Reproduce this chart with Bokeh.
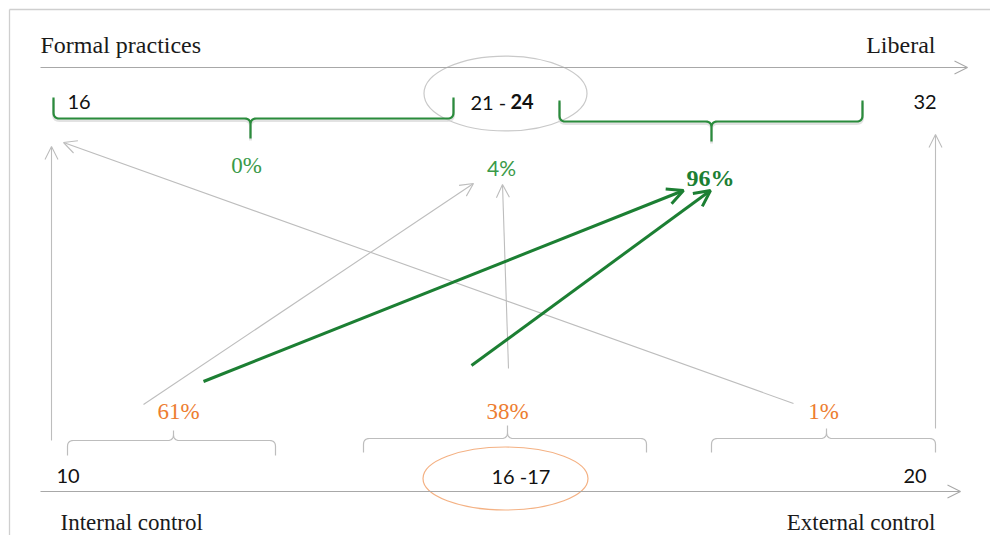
import numpy as np
from bokeh.plotting import figure
from bokeh.models import Range1d, Arrow, OpenHead, ColumnDataSource
from bokeh.core.properties import value
from bokeh.embed import file_html
from bokeh.resources import INLINE

# ---------------- data ----------------
top_axis_titles = ["Formal practices", "Liberal"]
bottom_axis_titles = ["Internal control", "External control"]
top_scores = ["16", "21 -", "24", "32"]          # "24" is bold
top_shares = ["0%", "4%", "96%"]
bottom_scores = ["10", "16 -17", "20"]
bottom_shares = ["61%", "38%", "1%"]

# ---------------- layout (pixel positions) ----------------
SERIF = "Liberation Serif"
SANS = "Lato"
GREEN = "#2a8c3c"
GREEN_DARK = "#1c7f33"
ORANGE = "#ed7d31"
GRAY = "#bdbdbd"

W, H = 990, 535
p = figure(width=W, height=H, x_range=Range1d(0, W), y_range=Range1d(H, 0),
           output_backend="svg", toolbar_location=None, min_border=0,
           x_axis_type=None, y_axis_type=None)
p.grid.visible = False
p.outline_line_color = None
p.background_fill_color = "white"

# frame
p.line([9, 990], [9, 9], line_color="#cfcfcf", line_width=1.3)
p.line([9, 9], [9, 535], line_color="#cfcfcf", line_width=1.3)

# axis arrows
axes_src = ColumnDataSource(dict(x0=[40, 40], y0=[67, 491], x1=[967, 960], y1=[67, 491]))
p.add_layout(Arrow(x_start="x0", y_start="y0", x_end="x1", y_end="y1", source=axes_src,
                   line_color="#a8a8a8", line_width=1.1,
                   end=OpenHead(size=13, line_color="#a8a8a8", line_width=1.1)))

# axis titles
p.text([40, 935], [44, 44], text=top_axis_titles, text_font=value(SERIF),
       text_font_size="24px", text_color="#1a1a1a", text_baseline="alphabetic",
       text_align=["left", "right"])
p.text([60, 935], [522, 522], text=bottom_axis_titles, text_font=value(SERIF),
       text_font_size="23px", text_color="#1a1a1a", text_baseline="alphabetic",
       text_align=["left", "right"])

# ellipses
p.ellipse(x=[505], y=[93], width=[163], height=[75], fill_color=None,
          line_color="#c9c9c9", line_width=1.2)
p.ellipse(x=[505], y=[478], width=[165], height=[63], fill_color=None,
          line_color="#f4b183", line_width=1.2)

# scores
p.text([67, 470, 913], [101, 101, 101], text=[top_scores[0], top_scores[1], top_scores[3]],
       text_font=value(SANS), text_font_size="20px", text_color="#111111",
       text_baseline="alphabetic")
p.text([510], [101], text=[top_scores[2]], text_font=value(SANS), text_font_size="20px",
       text_font_style="bold", text_color="#111111", text_baseline="alphabetic")
p.text([56, 491, 903], [475, 475, 475], text=bottom_scores,
       text_font=value(SANS), text_font_size="20px", text_color="#111111",
       text_baseline="alphabetic")


def qcurve(p0, c, p1, n=8):
    t = np.linspace(0, 1, n)
    xs = (1 - t) ** 2 * p0[0] + 2 * (1 - t) * t * c[0] + t ** 2 * p1[0]
    ys = (1 - t) ** 2 * p0[1] + 2 * (1 - t) * t * c[1] + t ** 2 * p1[1]
    return list(xs), list(ys)


def brace(x0, x1, xm, y_end, y_bar, y_tip, r=6):
    s = np.sign(y_bar - y_end)
    t = np.sign(y_tip - y_bar)
    xs, ys = [x0], [y_end]
    cx, cy = qcurve((x0, y_bar - s * r), (x0, y_bar), (x0 + r, y_bar))
    xs += cx; ys += cy
    cx, cy = qcurve((xm - r, y_bar), (xm, y_bar), (xm, y_bar + t * r))
    xs += cx; ys += cy
    xs += [xm]; ys += [y_tip]
    xs += [xm]; ys += [y_bar + t * r]
    cx, cy = qcurve((xm, y_bar + t * r), (xm, y_bar), (xm + r, y_bar))
    xs += cx; ys += cy
    cx, cy = qcurve((x1 - r, y_bar), (x1, y_bar), (x1, y_bar - s * r))
    xs += cx; ys += cy
    xs += [x1]; ys += [y_end]
    return xs, ys


# green braces (top)
gb = [brace(53, 453, 250, 97, 118, 138), brace(559, 862, 711, 100, 121, 141)]
p.multi_line([[x for x in b[0]] for b in gb], [[y + 2 for y in b[1]] for b in gb],
             line_color="#d6d6d6", line_width=3, line_alpha=0.7)
p.multi_line([b[0] for b in gb], [b[1] for b in gb], line_color=GREEN, line_width=2.2)

# gray braces (bottom)
bb = [brace(67, 275, 173, 455, 440, 430), brace(363, 646, 507, 452, 438, 425),
      brace(711, 935, 826, 452, 438, 428)]
p.multi_line([b[0] for b in bb], [b[1] for b in bb], line_color=GRAY, line_width=1.2)

# shares
p.text([246], [165], text=[top_shares[0]], text_font=value(SERIF), text_font_size="23px",
       text_color="#3a9a48", text_align="center", text_baseline="alphabetic")
p.text([501], [167], text=[top_shares[1]], text_font=value(SANS), text_font_size="21px",
       text_color="#3a9a48", text_align="center", text_baseline="alphabetic")
p.text([710], [177], text=[top_shares[2]], text_font=value(SERIF), text_font_size="24px",
       text_font_style="bold", text_color=GREEN_DARK, text_align="center",
       text_baseline="alphabetic")
p.text([178, 507, 823], [411, 411, 411], text=bottom_shares, text_font=value(SERIF),
       text_font_size="23px", text_color=ORANGE, text_align="center",
       text_baseline="alphabetic")

# flows (gray)
gray_src = ColumnDataSource(dict(
    x0=[51, 793, 143, 508, 935],
    y0=[440, 403, 404, 368, 428],
    x1=[51, 63, 473, 502, 935],
    y1=[146, 142, 183, 184, 134]))
p.add_layout(Arrow(x_start="x0", y_start="y0", x_end="x1", y_end="y1", source=gray_src,
                   line_color=GRAY, line_width=1.1,
                   end=OpenHead(size=13, line_color=GRAY, line_width=1.1)))

# flows (green)
green_src = ColumnDataSource(dict(x0=[203, 471], y0=[381, 365], x1=[683, 710], y1=[190, 190]))
p.add_layout(Arrow(x_start="x0", y_start="y0", x_end="x1", y_end="y1", source=green_src,
                   line_color=GREEN_DARK, line_width=3,
                   end=OpenHead(size=16, line_color=GREEN_DARK, line_width=3)))

open("out.html", "w").write(file_html(p, INLINE))
